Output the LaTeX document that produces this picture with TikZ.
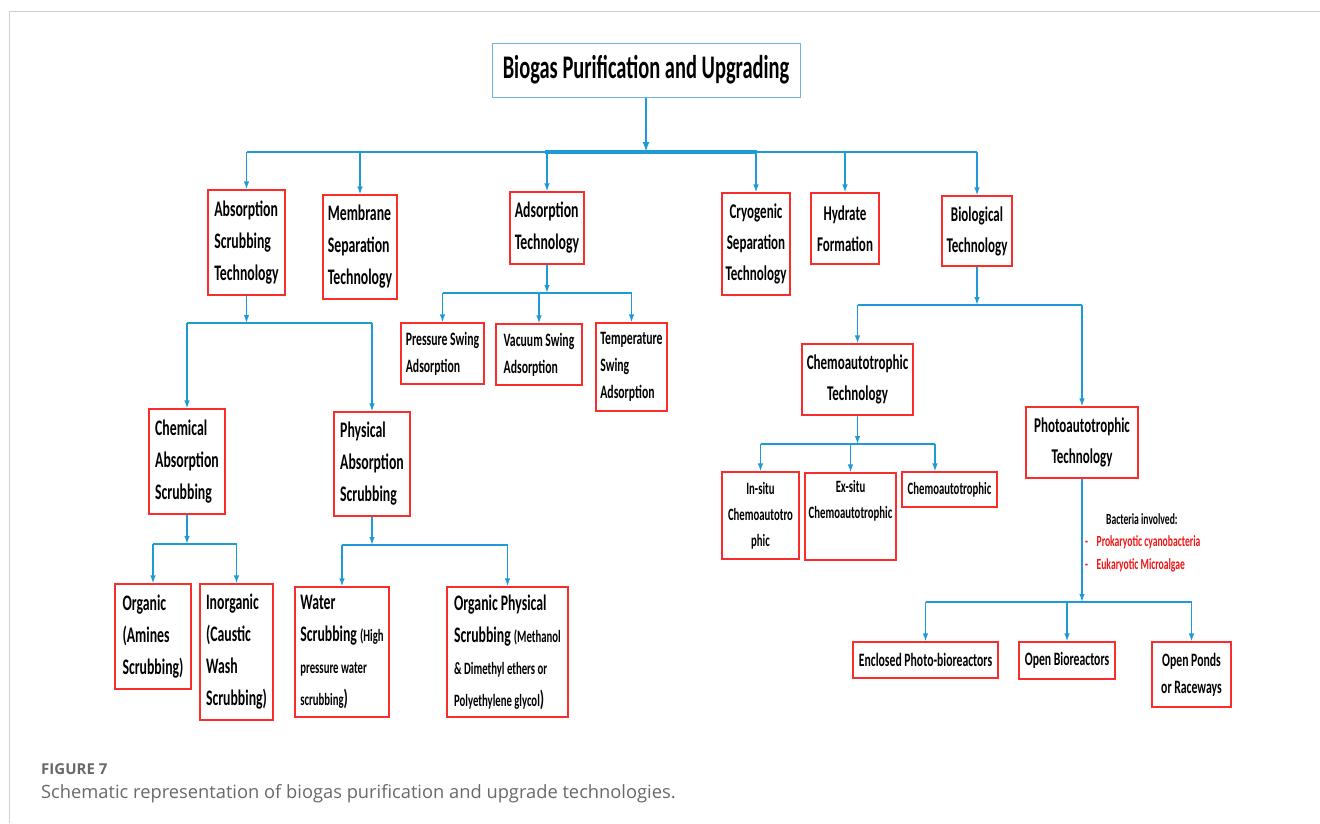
\documentclass[tikz,border=0pt]{standalone}
\usepackage{fontspec}
\setmainfont{Carlito}
\newfontfamily\nar[FakeStretch=0.62]{Carlito}[BoldFont={Carlito Bold}]
\newfontfamily\capfont{Open Sans}
\usetikzlibrary{arrows.meta}

\definecolor{lineblue}{RGB}{30,155,215}
\definecolor{boxred}{RGB}{250,45,45}
\definecolor{titleblue}{RGB}{110,180,228}
\definecolor{capgray}{RGB}{105,105,105}
\definecolor{framegray}{RGB}{208,208,208}
\definecolor{bacred}{RGB}{240,20,20}

\newcommand\smf{\fontsize{17.3}{28}\selectfont}

\tikzset{
  box/.style={draw=boxred, line width=1.1pt, inner sep=0pt, text=black},
  fbig/.style={font=\nar\bfseries\fontsize{22.2}{32}\selectfont},
  fmid/.style={font=\nar\bfseries\fontsize{21}{31}\selectfont},
  fsml/.style={font=\nar\bfseries\fontsize{18.9}{27}\selectfont},
  ftin/.style={font=\nar\bfseries\fontsize{17.3}{26}\selectfont},
  arr/.style={draw=lineblue, line width=1.4pt, -{Latex[length=8pt,width=5.5pt]}},
  trunk/.style={draw=lineblue, line width=2.4pt, -{Latex[length=10pt,width=7pt]}},
  bus/.style={draw=lineblue, line width=2pt},
  thickbus/.style={draw=lineblue, line width=4.5pt},
  bac/.style={anchor=west, inner sep=0pt, font=\nar\bfseries\fontsize{15.5}{17}\selectfont},
}

% box from its corners: [style]{name}{x1}{y1}{x2}{y2}{text}
\newcommand\bx[7][]{%
  \node[box,#1,minimum width={(#5-#3)*1pt},minimum height={(#6-#4)*1pt}]
    (#2) at ({(#3+#5)/2},{(#4+#6)/2}) {#7};}

\begin{document}
\begin{tikzpicture}[x=1pt,y=-1pt]
\useasboundingbox[fill=white] (0,0) rectangle (1320,823);

% page frame
\draw[framegray, line width=1.5pt] (9,11.5) -- (1320,11.5);
\draw[framegray, line width=1pt] (9.5,11) -- (9.5,823);

% root
\node[draw=titleblue, line width=1pt, minimum width=308pt, minimum height=54pt,
      inner sep=0pt, font=\nar\bfseries\fontsize{33}{36}\selectfont] (title) at (646,70)
      {Biogas Purification and Upgrading};

% first level
\bx[fbig,align=left]{abs}{208}{190}{285}{295}{Absorption\\Scrubbing\\Technology}
\bx[fbig,align=left]{mem}{323}{195}{397}{299}{Membrane\\Separation\\Technology}
\bx[fbig,align=left]{ads}{510}{192}{584}{264}{Adsorption\\Technology}
\bx[fmid,align=center]{cry}{722}{193}{790}{295}{Cryogenic\\Separation\\Technology}
\bx[fmid,align=center]{hyd}{811}{193}{879}{264}{Hydrate\\Formation}
\bx[fmid,align=center]{bio}{942}{196}{1012}{266}{Biological\\Technology}

% absorption branch
\bx[fbig,align=left]{chem}{149}{409}{225}{514}{Chemical\\Absorption\\Scrubbing}
\bx[fbig,align=left]{phys}{334}{412}{410}{516}{Physical\\Absorption\\Scrubbing}
\bx[fbig,align=left]{org}{115}{584}{191}{689}{Organic\\(Amines\\Scrubbing)}
\bx[fbig,align=left]{inorg}{200}{584}{273}{720}{Inorganic\\(Caustic\\Wash\\Scrubbing)}
\bx[fbig,align=left]{wat}{295}{587}{389}{717}{Water\\Scrubbing {\smf(High}\\{\smf pressure water}\\{\smf scrubbing})}
\bx[fbig,align=left]{orgp}{447}{587}{568}{717}{Organic Physical\\Scrubbing {\smf(Methanol}\\{\smf\&~Dimethyl ethers or}\\{\smf Polyethylene glycol})}

% adsorption branch
\bx[fsml,align=left]{psa}{401}{323}{484}{384}{Pressure Swing\\Adsorption}
\bx[fsml,align=left]{vsa}{496}{324}{582}{385}{Vacuum Swing\\Adsorption}
\bx[fsml,align=left]{tsa}{596}{323}{667}{411}{Temperature\\Swing\\Adsorption}

% biological branch
\bx[fmid,align=center]{cht}{802}{344}{913}{415}{Chemoautotrophic\\Technology}
\bx[fmid,align=center]{pht}{1026}{407}{1138}{478}{Photoautotrophic\\Technology}
\bx[ftin,align=center]{ins}{722}{472}{799}{559}{In-situ\\Chemoautotro\\phic}
\bx[ftin,align=center]{exs}{805}{473}{896}{560}{Ex-situ\\Chemoautotrophic\\\strut}
\bx[ftin,align=center]{chm}{902}{472}{997}{507}{Chemoautotrophic}
\bx[fsml,align=center]{enc}{853}{642}{998}{678}{Enclosed Photo-bioreactors}
\bx[fsml,align=center]{opb}{1019}{642}{1115}{679}{Open Bioreactors}
\bx[fsml,align=center]{opp}{1152}{642}{1231}{707}{Open Ponds\\or Raceways}

% bacteria note
\node[bac] (bhead) at (1106,519) {Bacteria involved:};
\node[bac, text=bacred] (bpro) at (1085,542) {-\hspace{8.5pt}Prokaryotic cyanobacteria};
\node[bac, text=bacred] (beuk) at (1085,565) {-\hspace{8.5pt}Eukaryotic Microalgae};

% bus junctions
\coordinate (j0)  at (646,152);
\coordinate (j0a) at (545,152);
\coordinate (j0b) at (757,152);
\coordinate (j1)  at (246,323);
\coordinate (j2)  at (184,544);
\coordinate (j3)  at (371,545);
\coordinate (j4)  at (547,293);
\coordinate (j5)  at (977,305);
\coordinate (j6)  at (858,444);
\coordinate (j6r) at (935,444);
\coordinate (j7)  at (1082,602);

% top level
\draw[trunk] (title.south) -- (j0);
\draw[bus] (abs.north |- j0) -- (bio.north |- j0);
\draw[thickbus] (j0a) -- (j0b);
\foreach \n in {abs,mem,ads,cry,hyd,bio}
  \draw[arr] (\n.north |- j0) -- (\n.north);

% absorption
\draw[arr] (abs.south) -- (abs.south |- j1);
\draw[bus] (chem.north |- j1) -- (phys.north |- j1);
\draw[arr] (chem.north |- j1) -- (chem.north);
\draw[arr] (phys.north |- j1) -- (phys.north);

\draw[arr] (chem.south) -- (chem.south |- j2);
\draw[bus] (org.north |- j2) -- (inorg.north |- j2);
\draw[arr] (org.north |- j2) -- (org.north);
\draw[arr] (inorg.north |- j2) -- (inorg.north);

\draw[arr] (phys.south) -- (phys.south |- j3);
\draw[bus] (wat.north |- j3) -- (orgp.north |- j3);
\draw[arr] (wat.north |- j3) -- (wat.north);
\draw[arr] (orgp.north |- j3) -- (orgp.north);

% adsorption
\draw[arr] (ads.south) -- (ads.south |- j4);
\draw[bus] (psa.north |- j4) -- (tsa.north |- j4);
\foreach \n in {psa,vsa,tsa}
  \draw[arr] (\n.north |- j4) -- (\n.north);

% biological
\draw[arr] (bio.south) -- (bio.south |- j5);
\draw[bus] (cht.north |- j5) -- (pht.north |- j5);
\draw[arr] (cht.north |- j5) -- (cht.north);
\draw[arr] (pht.north |- j5) -- (pht.north);

\draw[arr] (cht.south) -- (cht.south |- j6);
\draw[bus] (ins.north |- j6) -- (j6r);
\draw[arr] (ins.north |- j6) -- (ins.north);
\draw[arr] (exs.north |- j6) -- (exs.north);
\draw[arr] (j6r) -- (j6r |- chm.north);

\draw[arr] (pht.south) -- (pht.south |- j7);
\draw[bus] (enc.north |- j7) -- (opp.north |- j7);
\foreach \n in {enc,opb,opp}
  \draw[arr] (\n.north |- j7) -- (\n.north);

% caption
\node[anchor=base west, inner sep=0pt, text=capgray,
      font=\capfont\bfseries\fontsize{15}{18}\selectfont] (fig) at (41,774) {FIGURE 7};
\node[anchor=base west, inner sep=0pt, text=capgray,
      font=\capfont\fontsize{18.3}{22}\selectfont] (cap) at (41,798)
      {Schematic representation of biogas purification and upgrade technologies.};
\end{tikzpicture}
\end{document}
